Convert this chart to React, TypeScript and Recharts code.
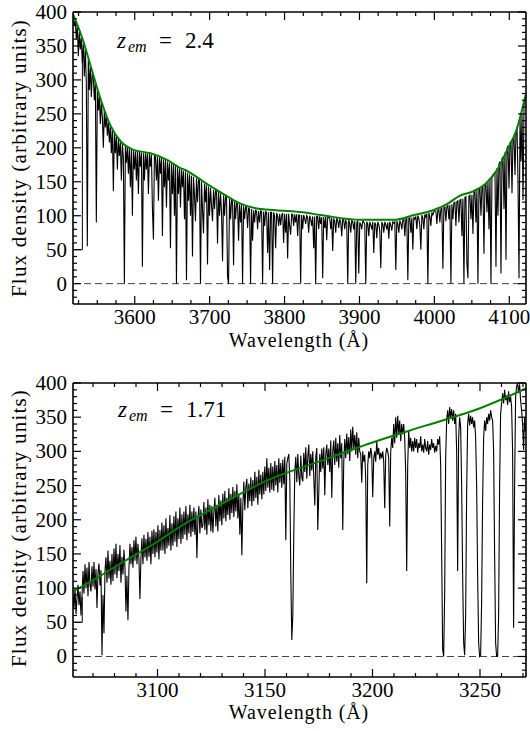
import React from "react";
import { ComposedChart, Line, XAxis, YAxis, ReferenceLine } from "recharts";

const FONT = "'Liberation Serif'";

// ---------- Top panel (z_em = 2.4) ----------
// spectrum sampled on the spectrograph pixel grid (start + i * step, Angstrom)
const TOP_GRID_START = 3518.0;
const TOP_GRID_STEP = 1.337;
const topFlux = [
  394, 380, 387, 360, 379, 335, 371, 345, 362, 325,
  354, 305, 345, 295, 55, 330, 285, 320, 275, 310,
  305, 270, 296, 90, 286, 255, 276, 235, 267, 245,
  200, 255, 230, 247, 218, 239, 208, 231, 192, 227,
  136, 222, 192, 218, 168, 213, 188, 208, 152, 206,
  185, 0, 203, 178, 201, 162, 199, 142, 197, 100,
  196, 168, 195, 152, 194, 132, 194, 172, 193, 25,
  192, 152, 193, 168, 192, 132, 191, 172, 190, 110,
  65, 189, 187, 152, 187, 122, 186, 162, 185, 70,
  183, 142, 182, 112, 180, 152, 178, 52, 177, 132,
  175, 100, 174, 0, 172, 132, 170, 112, 168, 142,
  166, 95, 165, 5, 163, 122, 161, 100, 159, 40,
  157, 130, 92, 155, 120, 153, 152, 0, 150, 110,
  74, 147, 120, 145, 28, 143, 100, 141, 115, 92,
  138, 110, 137, 136, 59, 135, 100, 133, 105, 33,
  130, 100, 128, 127, 10, 0, 125, 95, 123, 122,
  27, 121, 95, 120, 118, 63, 117, 90, 116, 0,
  114, 95, 113, 112, 82, 111, 110, 0, 110, 63,
  108, 90, 108, 107, 80, 107, 90, 107, 106, 0,
  106, 85, 106, 105, 45, 105, 20, 105, 105, 0,
  105, 100, 52, 104, 99, 85, 103, 86, 101, 104,
  60, 103, 75, 103, 37, 103, 85, 72, 102, 102,
  85, 102, 90, 102, 70, 101, 101, 0, 101, 80,
  101, 96, 88, 100, 97, 75, 100, 95, 85, 99,
  52, 99, 0, 99, 99, 80, 99, 88, 98, 8,
  98, 82, 98, 64, 98, 97, 97, 80, 97, 48,
  96, 92, 75, 96, 93, 82, 95, 91, 70, 95,
  94, 80, 93, 90, 0, 94, 89, 75, 93, 91,
  80, 92, 0, 89, 93, 15, 90, 87, 80, 92,
  91, 87, 0, 91, 88, 70, 91, 86, 80, 91,
  45, 90, 87, 67, 91, 87, 78, 23, 90, 88,
  75, 91, 87, 80, 90, 66, 91, 86, 78, 91,
  89, 91, 20, 92, 88, 75, 93, 89, 80, 94,
  95, 70, 95, 96, 5, 96, 97, 75, 97, 50,
  98, 95, 99, 80, 100, 96, 85, 50, 101, 97,
  80, 102, 98, 103, 0, 104, 99, 85, 105, 101,
  106, 107, 107, 88, 108, 109, 90, 110, 111, 22,
  112, 113, 92, 114, 115, 95, 116, 0, 117, 95,
  119, 120, 85, 121, 122, 90, 123, 124, 70, 125,
  0, 127, 128, 30, 8, 129, 130, 95, 131, 73,
  135, 136, 90, 138, 0, 139, 140, 100, 141, 142,
  44, 146, 147, 105, 150, 80, 154, 0, 158, 160,
  161, 164, 25, 170, 100, 176, 180, 15, 184, 187,
  110, 193, 35, 199, 203, 140, 207, 209, 133, 213,
  215, 160, 224, 230, 150, 8, 244, 180, 250, 123,
  262, 272,
];
const topEdgeWave = [3517.6, 3530.1, 3530.1];
const topEdgeFlux = [50, 50, 342];
const topContWave = [3517.6, 3531.4, 3540.8, 3554.1, 3567.5, 3580.9, 3598.3, 3621.0, 3643.8, 3661.2, 3667.9, 3694.6, 3721.4, 3738.8, 3761.5, 3788.2, 3824.3, 3848.4, 3901.9, 3946.0, 3972.8, 3998.2, 4019.6, 4033.0, 4051.7, 4069.1, 4085.1, 4098.5, 4109.2, 4122.5];
const topContFlux = [397, 357, 322, 273, 233, 210, 197, 192, 182, 170, 167, 148, 130, 119, 111, 108, 105, 101, 94, 94, 101, 108, 119, 129, 136, 148, 170, 200, 225, 281];
const TOP_X_DOMAIN: [number, number] = [3517.6, 4122.3];
const TOP_X_MAJOR = [3600, 3700, 3800, 3900, 4000, 4100];
const TOP_X_MINOR_STEP = 25;

// ---------- Bottom panel (z_em = 1.71) ----------
const BOT_GRID_START = 3060.7;
const BOT_GRID_STEP = 0.4647;
const botFlux = [
  90, 70, 100, 62, 85, 105, 75, 95, 60, 88,
  125, 92, 135, 100, 130, 88, 138, 105, 95, 132,
  102, 138, 98, 128, 71, 122, 136, 104, 126, 2,
  90, 34, 125, 145, 108, 155, 114, 140, 105, 150,
  110, 158, 120, 165, 115, 150, 125, 163, 108, 146,
  120, 156, 130, 66, 118, 53, 128, 165, 135, 160,
  130, 170, 140, 175, 135, 165, 142, 84, 145, 173,
  135, 178, 145, 172, 140, 182, 146, 175, 135, 184,
  150, 186, 145, 182, 152, 192, 142, 185, 155, 196,
  155, 192, 150, 202, 158, 188, 162, 207, 155, 195,
  162, 205, 168, 212, 160, 202, 172, 218, 165, 208,
  172, 212, 178, 220, 170, 208, 180, 222, 175, 212,
  182, 218, 178, 212, 144, 202, 220, 180, 215, 188,
  192, 226, 185, 218, 178, 230, 192, 222, 183, 220,
  181, 212, 232, 190, 222, 183, 236, 198, 228, 192,
  238, 202, 242, 198, 232, 207, 246, 200, 238, 210,
  248, 204, 242, 212, 252, 202, 238, 178, 232, 148,
  222, 256, 214, 248, 260, 217, 253, 227, 262, 220,
  258, 227, 270, 232, 263, 222, 273, 237, 266, 230,
  270, 237, 278, 242, 290, 247, 276, 240, 283, 244,
  278, 242, 286, 250, 280, 240, 290, 254, 283, 247,
  288, 252, 292, 170, 282, 290, 296, 260, 120, 24,
  60, 180, 270, 292, 255, 296, 264, 250, 294, 262,
  256, 298, 270, 306, 260, 292, 310, 264, 296, 272,
  300, 262, 221, 292, 305, 185, 240, 296, 270, 304,
  275, 306, 236, 296, 310, 280, 304, 270, 316, 232,
  300, 316, 280, 320, 285, 312, 276, 324, 290, 312,
  185, 285, 318, 290, 326, 296, 321, 286, 332, 300,
  336, 305, 324, 295, 328, 290, 320, 300, 296, 254,
  300, 285, 295, 260, 107, 280, 300, 290, 305, 295,
  233, 290, 300, 285, 315, 295, 305, 288, 298, 290,
  300, 285, 217, 295, 305, 300, 290, 190, 300, 320,
  305, 340, 312, 350, 320, 352, 325, 345, 315, 340,
  325, 340, 320, 270, 125, 280, 330, 305, 320, 300,
  315, 300, 320, 305, 318, 298, 312, 305, 322, 300,
  310, 298, 318, 305, 300, 315, 295, 310, 302, 318,
  305, 312, 298, 308, 300, 318, 310, 322, 280, 150,
  10, 0, 90, 290, 345, 360, 340, 365, 350, 362,
  345, 360, 340, 355, 300, 125, 320, 350, 335, 250,
  120, 20, 2, 60, 240, 340, 355, 338, 352, 340,
  350, 335, 345, 320, 250, 120, 20, 0, 2, 80,
  230, 320, 345, 330, 350, 340, 355, 345, 360, 350,
  345, 300, 150, 20, 0, 0, 60, 250, 355, 370,
  385, 370, 390, 375, 382, 368, 388, 372, 380, 365,
  300, 42, 250, 380, 395, 400, 385, 398, 375, 360,
  340, 302, 350, 330,
];
const botEdgeWave = [3060.7, 3065.0, 3065.0];
const botEdgeFlux = [50, 50, 87];
const botContWave = [3060.7, 3073.4, 3085, 3100, 3112, 3125, 3143, 3150, 3175, 3200, 3225, 3250, 3271.4];
const botContFlux = [95, 118, 140, 168, 193, 215, 245, 256, 285, 313, 338, 363, 392];
const BOT_X_DOMAIN: [number, number] = [3060.7, 3271.4];
const BOT_X_MAJOR = [3100, 3150, 3200, 3250];
const BOT_X_MINOR_STEP = 10;

// ---------- shared y axis ----------
const Y_DOMAIN: [number, number] = [-30, 400];
const Y_MAJOR = [0, 50, 100, 150, 200, 250, 300, 350, 400];
const Y_MINOR_STEP = 10;

function allTicks(lo: number, hi: number, step: number): number[] {
  const out: number[] = [];
  const start = Math.ceil(lo / step) * step;
  for (let v = start; v <= hi + 1e-9; v += step) {
    if (v > lo + 1e-6 && v < hi + 1e-6) out.push(Math.round(v));
  }
  return out;
}

const toPoints = (xs: number[], ys: number[]) => xs.map((x, i) => ({ x, y: ys[i] }));
const gridPoints = (start: number, step: number, ys: number[]) =>
  ys.map((y, i) => ({ x: start + i * step, y }));

type Side = "bottom" | "top" | "left" | "right";

const TXT = { fontFamily: FONT, fill: "#000" } as const;

function tickRenderer(side: Side, majors: number[], labels: boolean) {
  return (props: any) => {
    const { x, y, payload } = props;
    const v = payload ? payload.value : 0;
    const major = majors.indexOf(v) >= 0;
    const len = major ? 8 : 4;
    let x2 = x;
    let y2 = y;
    if (side === "bottom") y2 = y - len;
    if (side === "top") y2 = y + len;
    if (side === "left") x2 = x + len;
    if (side === "right") x2 = x - len;
    return (
      <g>
        <line x1={x} y1={y} x2={x2} y2={y2} stroke="#000" strokeWidth={1.2} />
        {labels && major && side === "bottom" && (
          <text x={x} y={y + 20} textAnchor="middle" fontFamily={FONT} fontSize={21} fill="#000" style={TXT}>
            {v}
          </text>
        )}
        {labels && major && side === "left" && (
          <text x={x - 6} y={y + 7} textAnchor="end" fontFamily={FONT} fontSize={21} fill="#000" style={TXT}>
            {v}
          </text>
        )}
      </g>
    );
  };
}

const AXIS_LINE = { stroke: "#000", strokeWidth: 1.6 };

function Panel(props: {
  top: number;
  height: number;
  marginTop: number;
  axisHeight: number;
  xDomain: [number, number];
  xMajor: number[];
  xMinorStep: number;
  spec: { x: number; y: number }[];
  cont: { x: number; y: number }[];
  edge: { x: number; y: number }[];
}) {
  const { top, height, marginTop, axisHeight, xDomain, xMajor, xMinorStep, spec, cont, edge } = props;
  const xAll = allTicks(xDomain[0], xDomain[1], xMinorStep);
  const yAll = allTicks(Y_DOMAIN[0], Y_DOMAIN[1], Y_MINOR_STEP);
  return (
    <div style={{ position: "absolute", left: 0, top, width: 530, height }}>
      <ComposedChart width={530} height={height} margin={{ top: marginTop, right: 4, bottom: 0, left: 0 }}>
        <XAxis
          xAxisId="b"
          type="number"
          dataKey="x"
          domain={xDomain}
          allowDataOverflow
          ticks={xAll}
          interval={0}
          height={axisHeight}
          tickSize={0}
          tickMargin={0}
          tickLine={false}
          axisLine={AXIS_LINE}
          tick={tickRenderer("bottom", xMajor, true)}
        />
        <XAxis
          xAxisId="t"
          orientation="top"
          mirror
          type="number"
          dataKey="x"
          domain={xDomain}
          allowDataOverflow
          ticks={xAll}
          interval={0}
          tickSize={0}
          tickMargin={0}
          tickLine={false}
          axisLine={AXIS_LINE}
          tick={tickRenderer("top", xMajor, false)}
        />
        <YAxis
          yAxisId="l"
          type="number"
          domain={Y_DOMAIN}
          allowDataOverflow
          ticks={yAll}
          interval={0}
          width={73}
          tickSize={0}
          tickMargin={0}
          tickLine={false}
          axisLine={AXIS_LINE}
          tick={tickRenderer("left", Y_MAJOR, true)}
        />
        <YAxis
          yAxisId="r"
          orientation="right"
          mirror
          type="number"
          domain={Y_DOMAIN}
          allowDataOverflow
          ticks={yAll}
          interval={0}
          tickSize={0}
          tickMargin={0}
          tickLine={false}
          axisLine={AXIS_LINE}
          tick={tickRenderer("right", Y_MAJOR, false)}
        />
        <ReferenceLine xAxisId="b" yAxisId="l" y={0} stroke="#444" strokeDasharray="7 4" strokeWidth={1} />
        <Line
          xAxisId="b"
          yAxisId="l"
          data={edge}
          dataKey="y"
          type="linear"
          stroke="#000"
          strokeWidth={1}
          dot={false}
          isAnimationActive={false}
        />
        <Line
          xAxisId="b"
          yAxisId="l"
          data={spec}
          dataKey="y"
          type="linear"
          stroke="#000"
          strokeWidth={1.1}
          dot={false}
          isAnimationActive={false}
        />
        <Line
          xAxisId="b"
          yAxisId="l"
          data={cont}
          dataKey="y"
          type="monotone"
          stroke="#008000"
          strokeWidth={2}
          dot={false}
          isAnimationActive={false}
        />
      </ComposedChart>
    </div>
  );
}

export default function App() {
  const topSpec = gridPoints(TOP_GRID_START, TOP_GRID_STEP, topFlux);
  const botSpec = gridPoints(BOT_GRID_START, BOT_GRID_STEP, botFlux);
  return (
    <div style={{ position: "absolute", left: 0, top: 0, width: 530, height: 731, background: "#fff", fontFamily: FONT }}>
      <Panel
        top={0}
        height={340}
        marginTop={12}
        axisHeight={36}
        xDomain={TOP_X_DOMAIN}
        xMajor={TOP_X_MAJOR}
        xMinorStep={TOP_X_MINOR_STEP}
        spec={topSpec}
        cont={toPoints(topContWave, topContFlux)}
        edge={toPoints(topEdgeWave, topEdgeFlux)}
      />
      <Panel
        top={340}
        height={391}
        marginTop={43}
        axisHeight={54}
        xDomain={BOT_X_DOMAIN}
        xMajor={BOT_X_MAJOR}
        xMinorStep={BOT_X_MINOR_STEP}
        spec={botSpec}
        cont={toPoints(botContWave, botContFlux)}
        edge={toPoints(botEdgeWave, botEdgeFlux)}
      />
      <svg
        width={530}
        height={731}
        style={{ position: "absolute", left: 0, top: 0, pointerEvents: "none" }}
      >
        <text transform="translate(26,158) rotate(-90)" textAnchor="middle" fontFamily={FONT} fontSize={21} letterSpacing={1.2} style={TXT}>
          Flux density (arbitrary units)
        </text>
        <text transform="translate(26,528) rotate(-90)" textAnchor="middle" fontFamily={FONT} fontSize={21} letterSpacing={1.2} style={TXT}>
          Flux density (arbitrary units)
        </text>
        <text x={299} y={347} textAnchor="middle" fontFamily={FONT} fontSize={20} letterSpacing={0.9} style={TXT}>
          Wavelength (Å)
        </text>
        <text x={299} y={719} textAnchor="middle" fontFamily={FONT} fontSize={20} letterSpacing={0.9} style={TXT}>
          Wavelength (Å)
        </text>
        <text y={48} fontFamily={FONT} fontSize={23} style={TXT}>
          <tspan x={117} fontStyle="italic">z</tspan>
          <tspan x={128} dy={4} fontSize={16} fontStyle="italic">em</tspan>
          <tspan x={159} dy={-4}>=</tspan>
          <tspan x={185}>2.4</tspan>
        </text>
        <text y={417} fontFamily={FONT} fontSize={23} style={TXT}>
          <tspan x={118} fontStyle="italic">z</tspan>
          <tspan x={129} dy={4} fontSize={16} fontStyle="italic">em</tspan>
          <tspan x={160} dy={-4}>=</tspan>
          <tspan x={186}>1.71</tspan>
        </text>
      </svg>
    </div>
  );
}
